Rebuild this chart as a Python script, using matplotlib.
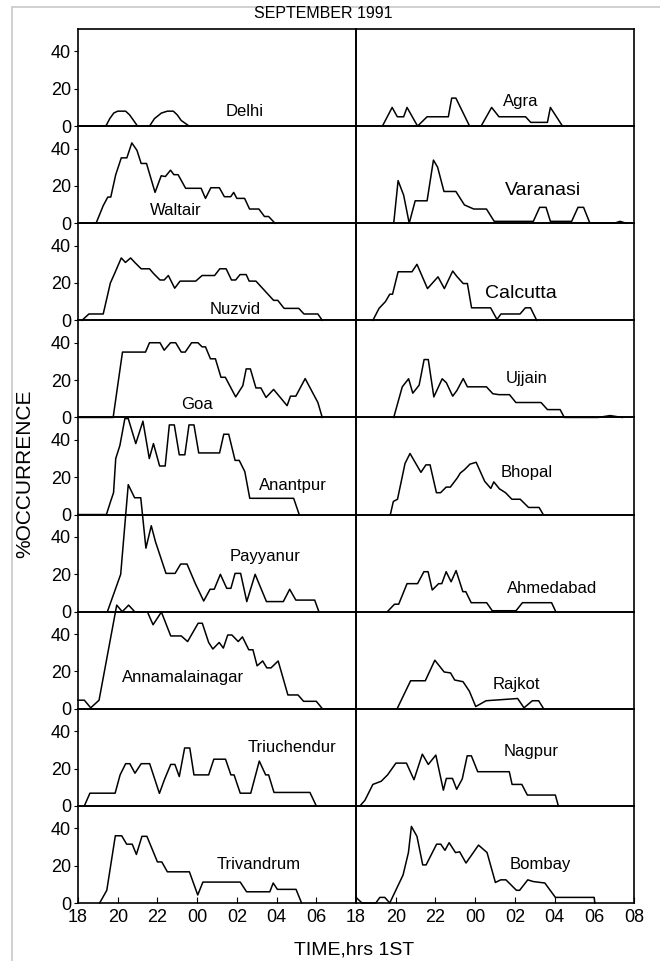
import matplotlib
matplotlib.use("Agg")
import matplotlib.pyplot as plt
from matplotlib.patches import Rectangle

plt.rcParams["font.family"] = ["Liberation Sans", "DejaVu Sans"]

# time axis: hours after 18:00 IST
left_ticks = [0, 2, 4, 6, 8, 10, 12]
left_labels = ["18", "20", "22", "00", "02", "04", "06"]
right_ticks = [0, 2, 4, 6, 8, 10, 12, 14]
right_labels = ["18", "20", "22", "00", "02", "04", "06", "08"]
y_ticks = [0, 20, 40]

delhi_t = [0, 1.4, 1.6, 1.8, 2.0, 2.4, 2.6, 2.8, 3.0, 3.6, 3.85, 4.2, 4.5, 4.8, 5.0, 5.2, 5.6]
delhi_v = [0, 0, 4, 7, 8, 8, 6, 3, 0, 0, 4, 7, 8, 8, 6, 3, 0]

agra_t = [1.33, 1.82, 2.08, 2.4, 2.57, 3.1, 3.58, 4.65, 4.82, 5.03, 5.72, 6.3, 6.83, 7.2, 8.54, 8.8, 9.64, 9.79, 10.4]
agra_v = [0, 10, 5, 5, 10, 0, 5, 5, 15, 15, 0, 0, 10, 5, 5, 2, 2, 10, 0]

waltair_t = [0, 0.91, 1.27, 1.5, 1.65, 1.9, 2.18, 2.46, 2.71, 2.97, 3.18, 3.45, 3.88, 4.19, 4.4, 4.66,
             4.83, 5.04, 5.42, 6.2, 6.42, 6.69, 7.12, 7.37, 7.69, 7.84, 8.0, 8.39, 8.64, 9.11, 9.39, 9.6, 9.92]
waltair_v = [0, 0, 9.4, 14, 14, 26, 35, 35, 43, 39, 32, 32, 16.5, 25.4, 25, 28.4,
             26, 26, 18.7, 18.7, 13.3, 19, 19, 14.2, 14.2, 16.5, 13.3, 13.3, 7.6, 7.6, 3.6, 3.6, 0]

varanasi_t = [1.9, 2.12, 2.4, 2.68, 2.98, 3.58, 3.9, 4.11, 4.43, 5.03, 5.46, 5.93, 6.57, 6.96, 8.93, 9.25,
              9.57, 9.79, 10.86, 11.18, 11.46, 11.78, 13.0, 13.3, 13.6]
varanasi_v = [0, 22.8, 15, 0, 12, 12, 33.8, 30, 17, 17, 9.8, 7.6, 7.6, 1, 1, 8.5,
              8.5, 1, 1, 8.5, 8.5, 0, 0, 1, 0]

nuzvid_t = [0.2, 0.55, 1.27, 1.63, 1.84, 2.18, 2.39, 2.65, 2.86, 3.18, 3.6, 3.81, 4.13, 4.34, 4.55, 4.87,
            5.14, 5.93, 6.25, 6.88, 7.14, 7.46, 7.73, 7.94, 8.16, 8.47, 8.62, 8.96, 9.85, 10.06, 10.38,
            11.12, 11.38, 12.08, 12.3]
nuzvid_v = [0, 3.4, 3.4, 20, 25, 33.4, 31, 33.4, 31, 27.6, 27.6, 25, 21.6, 21.6, 24, 17.2,
            21, 21, 24, 24, 27.6, 27.6, 21.6, 21.6, 24.5, 24.5, 21, 21, 10.7, 10.7, 6.4,
            6.4, 3.4, 3.4, 0]

calcutta_t = [0.85, 1.16, 1.48, 1.7, 1.84, 2.12, 2.82, 3.07, 3.6, 4.13, 4.45, 4.87, 5.08, 5.4, 5.61,
              5.82, 6.78, 7.1, 7.3, 8.26, 8.53, 8.79, 9.1]
calcutta_v = [0, 6.4, 10, 14, 14, 26, 26, 30, 17, 23.3, 17, 26.4, 23.5, 19.7, 19.7,
              6.7, 6.7, 0.5, 3.4, 3.4, 6.7, 6.7, 0]

goa_t = [0, 1.77, 2.24, 3.4, 3.6, 4.13, 4.34, 4.66, 4.92, 5.2, 5.4, 5.72, 6.04, 6.25, 6.42, 6.67, 6.92,
         7.2, 7.42, 7.94, 8.3, 8.47, 8.68, 8.96, 9.21, 9.47, 9.85, 10.53, 10.7, 10.97, 11.44, 12.08, 12.3]
goa_v = [0, 0, 35, 35, 40, 40, 36, 40, 40, 35, 35, 40, 40, 37.8, 37.8, 31.4, 31.4,
         21.5, 21.5, 11, 17, 26, 26, 15.8, 15.8, 10.7, 15, 6.3, 11.4, 11.4, 20.8, 8, 0]

ujjain_t = [1.9, 2.33, 2.65, 2.86, 3.18, 3.43, 3.64, 3.92, 4.34, 4.55, 4.87, 5.08, 5.4, 5.61, 6.57, 6.89,
            7.2, 7.73, 8.05, 9.32, 9.64, 10.28, 10.49, 12.19, 12.8, 13.4]
ujjain_v = [0, 16.4, 20.7, 13, 17.3, 31, 31, 11, 20.7, 18.6, 11.4, 14.4, 20.8, 16.4, 16.4, 12.7,
            12.2, 12.2, 8, 8, 4.2, 4.2, 0, 0, 1, 0]

anantpur_t = [0, 1.43, 1.65, 1.79, 1.9, 2.11, 2.36, 2.53, 2.91, 3.27, 3.59, 3.8, 4.11, 4.39, 4.6, 4.85,
              5.1, 5.38, 5.59, 5.84, 6.08, 7.13, 7.34, 7.59, 7.91, 8.12, 8.4, 8.65, 10.86, 11.14]
anantpur_v = [0, 0, 7.3, 11.7, 30, 37, 51.4, 51.4, 38, 50, 30, 38, 26, 26, 48, 48,
              32, 32, 48, 48, 33, 33, 43, 43, 29, 29, 23, 8.7, 8.7, 0]

bhopal_t = [1.73, 1.88, 2.09, 2.47, 2.72, 3.27, 3.52, 3.73, 4.05, 4.26, 4.54, 4.75, 5.1, 5.25, 5.46, 5.74,
            6.05, 6.48, 6.79, 6.94, 7.22, 7.53, 7.85, 8.27, 8.69, 9.22, 9.43]
bhopal_v = [0, 7, 8.2, 27.4, 32.7, 22.6, 26.6, 26.6, 11.7, 11.7, 14.7, 14.7, 19.6, 22.2, 24, 27,
            28, 17.8, 14, 17.5, 13.8, 11.7, 8.2, 8.2, 3.8, 3.8, 0]

payyanur_t = [1.48, 2.15, 2.53, 2.85, 3.16, 3.42, 3.69, 3.9, 4.43, 4.89, 5.17, 5.49, 5.91, 6.33, 6.65, 6.86,
              7.17, 7.49, 7.7, 7.91, 8.19, 8.5, 8.92, 9.49, 10.34, 10.66, 10.97, 11.92, 12.13]
payyanur_v = [0, 20, 68, 61, 61, 34, 46, 37.5, 20.5, 20.5, 25.5, 25.5, 15, 5.7, 12, 12,
              20, 12.5, 12.5, 20.5, 20.5, 5.4, 20, 5.4, 5.4, 12, 6.2, 6.2, 0]

ahmedabad_t = [1.58, 1.94, 2.15, 2.57, 3.1, 3.42, 3.63, 3.84, 4.16, 4.32, 4.54, 4.79, 5.04, 5.38, 5.53,
               5.8, 6.58, 6.86, 8.06, 8.38, 9.85, 10.06]
ahmedabad_v = [0, 4, 4, 15, 15, 21.4, 21.4, 11.6, 15, 15, 21.4, 16, 22, 10.7, 10.7,
               4.8, 4.8, 0.5, 0.5, 4.8, 4.8, 0]

annamalai_t = [0, 0.32, 0.64, 1.06, 1.95, 2.23, 2.55, 2.87, 3.5, 3.78, 4.2, 4.67, 5.2, 5.52, 6.05, 6.26,
               6.58, 6.79, 7.11, 7.32, 7.54, 7.75, 8.07, 8.28, 8.6, 8.81, 9.02, 9.3, 9.51, 9.72, 10.08,
               10.57, 11.08, 11.36, 12.0, 12.31, 14]
annamalai_v = [4.6, 4.6, 0.5, 4.6, 55.5, 52, 55.5, 51.8, 51.8, 45, 51.8, 39, 39, 36, 45.8, 45.8,
               35.5, 32, 35.5, 32.5, 39.5, 39.5, 36, 38.5, 31.6, 31.6, 23, 25.6, 21.9, 21.9, 25.6,
               7.4, 7.4, 4, 4, 0, 0]

rajkot_t = [2.07, 2.75, 3.49, 3.97, 4.44, 4.76, 4.97, 5.39, 5.71, 6.03, 6.55, 8.14, 8.46, 8.88, 9.2, 9.45]
rajkot_v = [0, 15, 15, 26, 19.7, 19.2, 15.4, 14.5, 9.4, 1.2, 4.3, 5.5, 0.5, 4.3, 4.3, 0]

triuch_t = [0.32, 0.6, 1.87, 2.12, 2.4, 2.61, 2.87, 3.18, 3.61, 4.1, 4.35, 4.67, 4.88, 5.1, 5.37, 5.63,
            5.84, 6.58, 6.84, 7.43, 7.7, 7.86, 8.17, 8.7, 9.13, 9.45, 9.6, 9.87, 11.68, 12.0]
triuch_v = [0, 6.8, 6.8, 16.6, 22.6, 22.6, 17.5, 22.6, 22.6, 6.7, 14, 22.2, 22.2, 15.7, 31, 31,
            16.6, 16.6, 25, 25, 16.6, 16.6, 6.8, 6.8, 24, 16.6, 16.6, 7.2, 7.2, 0]

nagpur_t = [0.2, 0.45, 0.85, 1.27, 1.59, 2.01, 2.54, 2.92, 3.34, 3.64, 4.02, 4.4, 4.55, 4.86, 5.07, 5.35,
            5.6, 5.81, 6.13, 7.72, 7.86, 8.35, 8.63, 10.04, 10.19]
nagpur_v = [0, 3, 11.5, 13.2, 16.6, 22.9, 22.9, 14, 27.7, 22.2, 27.2, 8.4, 14.7, 14.7, 8.9, 14.4,
            26.8, 26.8, 18.3, 18.3, 11.5, 11.5, 5.8, 5.8, 0]

trivandrum_t = [1.09, 1.45, 1.88, 2.2, 2.45, 2.73, 2.94, 3.22, 3.47, 4.0, 4.22, 4.5, 5.61, 6.03, 6.29,
                8.17, 8.49, 9.66, 9.83, 10.04, 10.98, 11.26]
trivandrum_v = [0, 6.8, 36, 36, 31.5, 31.5, 26, 35.7, 35.7, 22, 22, 16.7, 16.7, 4.3, 11.2,
                11.2, 6, 6, 10.7, 7.3, 7.3, 0]

bombay_t = [0, 0.3, 1.0, 1.2, 1.45, 1.7, 2.37, 2.64, 2.79, 3.07, 3.36, 3.53, 4.06, 4.27, 4.48, 4.69,
            5.01, 5.22, 5.54, 6.17, 6.6, 7.02, 7.29, 7.55, 8.08, 8.24, 8.65, 8.92, 9.51, 10.04, 11.99, 12.03]
bombay_v = [3, 0, 0, 3, 3, 0, 15, 27, 41, 35.7, 20.4, 20.4, 31.5, 31.5, 28.2, 32.3,
            27, 27.4, 21.4, 31, 27, 11, 12.4, 12.4, 6.8, 6.8, 12.4, 11.5, 10.7, 3, 3, 0]

# (name, times, values, label x, label y, label size)
left_col = [
    ("Delhi", delhi_t, delhi_v, 8.4, 8, 12),
    ("Waltair", waltair_t, waltair_v, 4.9, 7, 12),
    ("Nuzvid", nuzvid_t, nuzvid_v, 7.9, 6, 12),
    ("Goa", goa_t, goa_v, 6.0, 7, 12),
    ("Anantpur", anantpur_t, anantpur_v, 10.8, 15.7, 12),
    ("Payyanur", payyanur_t, payyanur_v, 9.4, 29.5, 12),
    ("Annamalainagar", annamalai_t, annamalai_v, 5.3, 17, 12),
    ("Triuchendur", triuch_t, triuch_v, 10.8, 31, 12),
    ("Trivandrum", trivandrum_t, trivandrum_v, 9.1, 20.4, 12),
]
right_col = [
    ("Agra", agra_t, agra_v, 8.3, 13, 12),
    ("Varanasi", varanasi_t, varanasi_v, 9.4, 17.5, 14),
    ("Calcutta", calcutta_t, calcutta_v, 8.3, 14.5, 14),
    ("Ujjain", ujjain_t, ujjain_v, 8.6, 21, 12),
    ("Bhopal", bhopal_t, bhopal_v, 8.6, 22.4, 12),
    ("Ahmedabad", ahmedabad_t, ahmedabad_v, 9.9, 12.5, 12),
    ("Rajkot", rajkot_t, rajkot_v, 8.1, 12.8, 12),
    ("Nagpur", nagpur_t, nagpur_v, 8.8, 29, 12),
    ("Bombay", bombay_t, bombay_v, 9.3, 20.4, 12),
]

fig = plt.figure(figsize=(6.6, 9.61), dpi=100)
gs = fig.add_gridspec(9, 2, left=78 / 660, right=634 / 660, top=1 - 29 / 961,
                      bottom=1 - 903 / 961, hspace=0, wspace=0)

# faint scan frame
fig.patches.append(Rectangle((12 / 660, -0.01), 1.2, 1 - 7 / 961 + 0.01, transform=fig.transFigure,
                             fill=False, edgecolor="#c8c8c8", linewidth=1.2))

nrows = len(left_col)
for col, stations in enumerate([left_col, right_col]):
    for row, (name, t, v, lx, ly, fs) in enumerate(stations):
        ax = fig.add_subplot(gs[row, col])
        ax.set_facecolor("none")
        ax.plot(t, v, color="black", linewidth=1.1, clip_on=False)
        ax.text(lx, ly, name, fontsize=fs, ha="center", va="center")
        ax.set_xlim(0, 14)
        ax.set_ylim(0, 52)
        for sp in ax.spines.values():
            sp.set_linewidth(1.2)
        if col == 0:
            ax.set_yticks(y_ticks)
            ax.tick_params(axis="y", direction="out", length=3, labelsize=13, pad=2)
        else:
            ax.set_yticks([])
        if row == nrows - 1:
            ticks, labels = (left_ticks, left_labels) if col == 0 else (right_ticks, right_labels)
            ax.set_xticks(ticks)
            ax.set_xticklabels(labels)
            ax.tick_params(axis="x", direction="in", length=4, labelsize=13, pad=4)
        else:
            ax.set_xticks([])

fig.text(323 / 660, 1 - 13 / 961, "SEPTEMBER 1991", fontsize=11.5, ha="center", va="center")
fig.text(354 / 660, 1 - 950 / 961, "TIME,hrs 1ST", fontsize=14, ha="center", va="center")
fig.text(25 / 660, 1 - 474 / 961, "%OCCURRENCE", fontsize=15, ha="center", va="center", rotation=90)

fig.savefig("out.png", dpi=100)
